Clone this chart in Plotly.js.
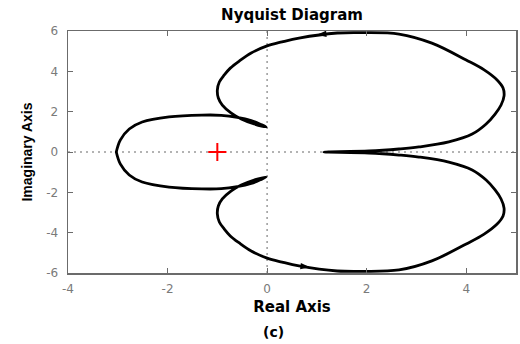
<!DOCTYPE html>
<html>
<head>
<meta charset="utf-8">
<script src="https://cdn.plot.ly/plotly-3.0.1.min.js"></script>
<style>
  html, body { margin: 0; padding: 0; background: #fff; }
  #plot { width: 520px; height: 344px; }
</style>
</head>
<body>
<div id="plot"></div>
<script>
// Positive-frequency branch of the Nyquist contour (upper half-plane part)
var upperRe = [1.14, 2.05, 2.65, 3.05, 3.65, 4.12, 4.40, 4.58, 4.70, 4.76, 4.74, 4.62, 4.36, 4.00, 3.31, 2.65, 1.91, 1.41, 0.64, 0.30, 0.00, -0.32, -0.56, -0.74, -0.86, -0.96, -1.00, -0.98, -0.90, -0.72, -0.52, -0.26, -0.02, -0.12, -0.32, -0.60, -0.92, -1.31, -1.97, -2.51, -2.77, -2.95, -3.03];
var upperIm = [0.00, 0.05, 0.15, 0.25, 0.50, 0.89, 1.39, 1.88, 2.33, 2.78, 3.17, 3.57, 4.07, 4.56, 5.40, 5.85, 5.92, 5.90, 5.65, 5.46, 5.26, 4.91, 4.51, 4.16, 3.82, 3.47, 3.07, 2.68, 2.33, 1.93, 1.64, 1.39, 1.24, 1.36, 1.56, 1.72, 1.82, 1.83, 1.74, 1.49, 1.14, 0.59, 0.00];

// Negative-frequency branch (lower half-plane part)
var lowerRe = [-3.03, -2.95, -2.77, -2.51, -1.97, -1.31, -0.92, -0.60, -0.32, -0.12, -0.02, -0.26, -0.52, -0.72, -0.90, -0.98, -1.00, -0.96, -0.86, -0.74, -0.56, -0.32, 0.00, 0.30, 0.64, 1.41, 1.91, 2.65, 3.31, 4.00, 4.36, 4.62, 4.74, 4.76, 4.70, 4.58, 4.40, 4.12, 3.65, 3.05, 2.65, 2.05, 1.14];
var lowerIm = [0.00, -0.59, -1.14, -1.49, -1.74, -1.83, -1.82, -1.72, -1.56, -1.36, -1.24, -1.39, -1.64, -1.93, -2.33, -2.68, -3.07, -3.47, -3.82, -4.16, -4.51, -4.91, -5.26, -5.46, -5.65, -5.90, -5.92, -5.85, -5.40, -4.56, -4.07, -3.57, -3.17, -2.78, -2.33, -1.88, -1.39, -0.89, -0.50, -0.25, -0.15, -0.05, 0.00];

// Direction arrows on the two branches
var arrowRe = [1.00, 0.86];
var arrowIm = [5.82, -5.72];
var arrowAngle = [-95, 97];

// Critical point
var critRe = [-1];
var critIm = [0];

// Tick labels
var xTickVals = [-4, -2, 0, 2, 4];
var xTickText = ['-4', '-2', '0', '2', '4'];
var yTickVals = [-6, -4, -2, 0, 2, 4, 6];
var yTickText = ['-6', '-4', '-2', '0', '2', '4', '6'];

var axisGray = '#6b6b6b';
var labelGray = '#7a7a7a';

var traces = [
  {
    x: upperRe.concat(lowerRe),
    y: upperIm.concat(lowerIm),
    mode: 'lines',
    line: { color: '#000000', width: 2.8, shape: 'spline', smoothing: 1.0 },
    hoverinfo: 'skip'
  },
  {
    x: arrowRe,
    y: arrowIm,
    mode: 'markers',
    marker: { symbol: 'arrow', size: 10, color: '#000000', angle: arrowAngle, line: { width: 0 } },
    hoverinfo: 'skip'
  },
  {
    x: critRe,
    y: critIm,
    mode: 'markers',
    marker: { symbol: 'cross-thin', size: 13, line: { color: '#ff0000', width: 2 } },
    hoverinfo: 'skip'
  }
];

var layout = {
  width: 520,
  height: 344,
  margin: { l: 68, r: 4, t: 31, b: 71 },
  paper_bgcolor: '#ffffff',
  plot_bgcolor: '#ffffff',
  showlegend: false,
  title: {
    text: 'Nyquist Diagram',
    font: { family: 'DejaVu Sans', size: 15, weight: 'bold', color: '#000000' },
    x: 0.5, xref: 'paper', xanchor: 'center',
    y: 0.958, yref: 'container', yanchor: 'middle'
  },
  xaxis: {
    range: [-4, 5],
    tickmode: 'array', tickvals: xTickVals, ticktext: xTickText,
    ticks: 'inside', ticklen: 5, tickwidth: 1, tickcolor: axisGray,
    showline: true, linecolor: axisGray, linewidth: 1.5, mirror: 'ticks',
    showgrid: false, zeroline: false,
    tickfont: { family: 'DejaVu Sans', size: 12, color: labelGray },
    ticklabelstandoff: 4,
    automargin: false,
    title: {
      text: 'Real Axis',
      font: { family: 'DejaVu Sans', size: 15, weight: 'bold', color: '#000000' },
      standoff: 6
    }
  },
  yaxis: {
    range: [-6, 6],
    tickmode: 'array', tickvals: yTickVals, ticktext: yTickText,
    ticks: 'inside', ticklen: 5, tickwidth: 1, tickcolor: axisGray,
    showline: true, linecolor: axisGray, linewidth: 1.5, mirror: 'ticks',
    showgrid: false, zeroline: false,
    tickfont: { family: 'DejaVu Sans', size: 12, color: labelGray },
    ticklabelstandoff: 6,
    automargin: false,
    title: {
      text: 'Imaginary Axis',
      font: { family: 'Liberation Sans', size: 14, weight: 'bold', color: '#000000' },
      standoff: 10
    }
  },
  shapes: [
    { type: 'line', xref: 'x', yref: 'paper', x0: 0, x1: 0, y0: 0, y1: 1, layer: 'below',
      line: { color: '#9a9a9a', width: 1.5, dash: '2px,4px' } },
    { type: 'line', xref: 'paper', yref: 'y', x0: 0, x1: 1, y0: 0, y1: 0, layer: 'below',
      line: { color: '#9a9a9a', width: 1.5, dash: '2px,4px' } }
  ],
  annotations: [
    { text: '(c)', xref: 'paper', yref: 'paper', x: 0.458, y: -0.244,
      xanchor: 'center', yanchor: 'middle', showarrow: false,
      font: { family: 'DejaVu Sans', size: 14, weight: 'bold', color: '#000000' } }
  ]
};

Plotly.newPlot('plot', traces, layout, { staticPlot: true, displayModeBar: false });
</script>
</body>
</html>
